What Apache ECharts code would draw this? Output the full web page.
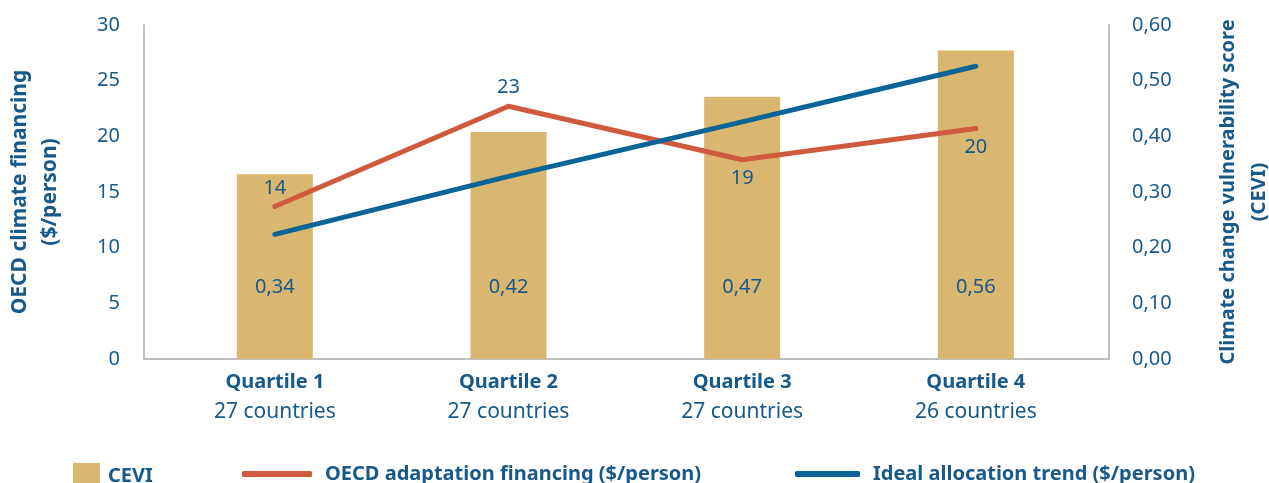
<!DOCTYPE html>
<html>
<head>
<meta charset="utf-8">
<script src="https://cdn.jsdelivr.net/npm/echarts@6/dist/echarts.min.js"></script>
<style>
  html, body { margin: 0; padding: 0; background: #fff; }
  #chart { width: 1269px; height: 483px; }
</style>
</head>
<body>
<div id="chart"></div>
<script>
// Data
const quartiles = ['Quartile 1', 'Quartile 2', 'Quartile 3', 'Quartile 4'];
const countryCounts = ['27 countries', '27 countries', '27 countries', '26 countries'];
const cevi = [0.332, 0.408, 0.471, 0.554];
const ceviLabels = ['0,34', '0,42', '0,47', '0,56'];
const oecdFinancing = [13.7, 22.7, 17.9, 20.7];
const oecdLabels = ['14', '23', '19', '20'];
const idealTrend = [11.2, 16.4, 21.3, 26.3];

const TEXT = '#17598b';
const FONT = 'Noto Sans';
const oecdLabelPos = ['top', 'top', 'bottom', 'bottom'];

let chart;

function setupChart() {
    chart = echarts.init(document.getElementById('chart'));

    const axisLine = { show: true, onZero: false, lineStyle: { color: '#bfbfbf', width: 2 } };
    const legendText = (pad) => ({ fontFamily: FONT, fontWeight: 'bold', fontSize: 20, color: TEXT, padding: [0, 0, 0, pad] });

    const option = {
        animation: false,
        textStyle: { fontFamily: FONT, color: TEXT },
        grid: { left: 144, right: 160, top: 25, bottom: 124, outerBoundsMode: 'none', containLabel: false },
        legend: [
            {
                left: 68, top: 458,
                data: [{ name: 'CEVI', icon: 'rect' }],
                itemWidth: 27, itemHeight: 27,
                textStyle: legendText(3)
            },
            {
                left: 237, top: 459,
                data: [{ name: 'OECD adaptation financing ($/person)', icon: 'roundRect' }],
                itemWidth: 70, itemHeight: 6,
                textStyle: legendText(8)
            },
            {
                left: 790, top: 459,
                data: [{ name: 'Ideal allocation trend ($/person)', icon: 'roundRect' }],
                itemWidth: 65, itemHeight: 6,
                textStyle: legendText(8)
            }
        ],
        xAxis: {
            type: 'value',
            min: -0.56,
            max: 3.57,
            splitLine: { show: false },
            axisTick: { show: false },
            axisLine: axisLine,
            axisLabel: {
                customValues: [0, 1, 2, 3],
                margin: 8,
                formatter: v => `{q|${quartiles[v]}}\n{c|${countryCounts[v]}}`,
                rich: {
                    q: { fontFamily: FONT, fontWeight: 'bold', fontSize: 20, color: TEXT, lineHeight: 30 },
                    c: { fontFamily: FONT, fontSize: 21, color: TEXT, lineHeight: 30 }
                }
            }
        },
        yAxis: [
            {
                type: 'value',
                min: 0, max: 30, interval: 5,
                name: 'OECD climate financing\n($/person)',
                nameLocation: 'middle',
                nameRotate: 90,
                nameGap: 79,
                nameTextStyle: { fontFamily: FONT, fontWeight: 'bold', fontSize: 21, color: TEXT, lineHeight: 30 },
                splitLine: { show: false },
                axisTick: { show: false },
                axisLine: axisLine,
                axisLabel: { fontFamily: FONT, fontSize: 20, color: TEXT, margin: 24 }
            },
            {
                type: 'value',
                position: 'right',
                min: 0, max: 0.6, interval: 0.1,
                name: 'Climate change vulnerability score\n(CEVI)',
                nameLocation: 'middle',
                nameRotate: 90,
                nameGap: 104,
                nameTextStyle: { fontFamily: FONT, fontWeight: 'bold', fontSize: 20, color: TEXT, lineHeight: 31 },
                splitLine: { show: false },
                axisTick: { show: false },
                axisLine: axisLine,
                axisLabel: {
                    fontFamily: FONT, fontSize: 20, color: TEXT, margin: 23,
                    formatter: v => v.toFixed(2).replace('.', ',')
                }
            }
        ],
        series: [
            {
                name: 'CEVI',
                type: 'bar',
                yAxisIndex: 1,
                barWidth: 76,
                itemStyle: { color: '#dab771' },
                label: {
                    show: true,
                    position: 'insideBottom',
                    distance: 62,
                    fontFamily: FONT, fontSize: 20, color: TEXT,
                    formatter: p => ceviLabels[p.dataIndex]
                },
                data: cevi.map((v, i) => [i, v])
            },
            {
                name: 'OECD adaptation financing ($/person)',
                type: 'line',
                yAxisIndex: 0,
                symbol: 'circle',
                symbolSize: 1,
                itemStyle: { color: '#cf5a3e' },
                lineStyle: { color: '#cf5a3e', width: 5, cap: 'round', join: 'round' },
                label: {
                    show: true,
                    distance: 8,
                    fontFamily: FONT, fontSize: 20, color: TEXT,
                    formatter: p => oecdLabels[p.dataIndex]
                },
                data: oecdFinancing.map((v, i) => ({ value: [i, v], label: { position: oecdLabelPos[i] } }))
            },
            {
                name: 'Ideal allocation trend ($/person)',
                type: 'line',
                yAxisIndex: 0,
                symbol: 'none',
                itemStyle: { color: '#0a6497' },
                lineStyle: { color: '#0a6497', width: 5, cap: 'round', join: 'round' },
                data: idealTrend.map((v, i) => [i, v])
            }
        ]
    };

    chart.setOption(option);
}

window.addEventListener('resize', () => {
    chart?.resize();
});

document.addEventListener('DOMContentLoaded', setupChart);
</script>
</body>
</html>
